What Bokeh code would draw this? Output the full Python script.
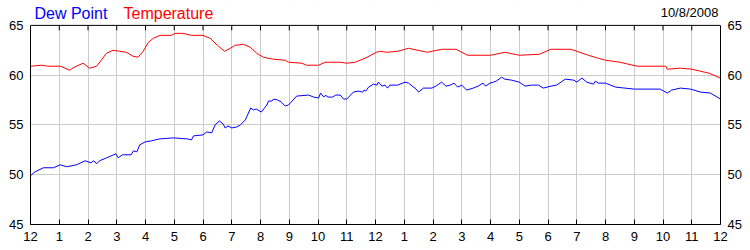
import math
from bokeh.plotting import figure
from bokeh.models import Range1d, LinearAxis, FixedTicker, Label, BoxAnnotation, Span
from bokeh.embed import file_html
from bokeh.resources import INLINE

# ---- data (hours after midnight, deg F) ----
temp_hours = [0.0, 0.4, 0.6, 1.05, 1.36, 1.52, 1.83, 2.06, 2.3, 2.46, 2.64, 2.87, 3.1, 3.33, 3.57,
              3.74, 3.92, 4.1, 4.27, 4.5, 4.9, 5.03, 5.3, 5.6, 6.0, 6.25, 6.5, 6.75, 6.95, 7.12,
              7.41, 7.64, 7.87, 8.1, 8.45, 8.86, 8.97, 9.44, 9.6, 10.02, 10.25, 10.77, 11.0, 11.29,
              11.64, 12.03, 12.15, 12.4, 12.77, 13.15, 13.8, 14.3, 14.8, 15.2, 16.0, 16.5, 17.0,
              17.7, 18.1, 18.8, 19.0, 19.4, 19.75, 20.0, 20.5, 21.1, 22.1, 22.15, 22.6, 23.0, 23.3,
              23.6, 24.0]
temp_values = [60.9, 61.0, 60.9, 60.9, 60.5, 60.8, 61.2, 60.7, 60.9, 61.5, 62.2, 62.5, 62.4, 62.3, 61.9,
               61.8, 62.4, 63.3, 63.7, 64.0, 64.0, 64.2, 64.2, 64.0, 64.0, 63.7, 63.0, 62.4, 62.7, 63.0,
               63.1, 62.8, 62.2, 61.8, 61.6, 61.5, 61.3, 61.2, 61.0, 61.0, 61.3, 61.3, 61.2, 61.3,
               61.7, 62.3, 62.4, 62.3, 62.4, 62.7, 62.3, 62.6, 62.6, 62.0, 62.0, 62.3, 62.0,
               62.1, 62.6, 62.6, 62.4, 62.0, 61.7, 61.5, 61.3, 60.9, 60.9, 60.6, 60.7, 60.6, 60.4,
               60.2, 59.7]

dew_hours = [0.0, 0.16, 0.45, 0.8, 1.03, 1.26, 1.6, 1.9, 2.1, 2.2, 2.3, 2.4, 2.65, 2.97, 3.05, 3.2,
             3.5, 3.58, 3.7, 3.8, 3.99, 4.2, 4.34, 4.5, 4.97, 5.45, 5.6, 5.67, 6.0, 6.13, 6.3, 6.42,
             6.57, 6.7, 6.77, 6.87, 7.0, 7.18, 7.3, 7.47, 7.66, 7.75, 7.85, 8.03, 8.22, 8.28, 8.4,
             8.45, 8.6, 8.72, 8.86, 8.97, 9.1, 9.26, 9.67, 9.85, 10.02, 10.09, 10.2, 10.27, 10.33,
             10.5, 10.62, 10.77, 10.89, 11.0, 11.23, 11.4, 11.55, 11.6, 11.66, 11.76, 11.93, 12.05,
             12.1, 12.23, 12.33, 12.42, 12.5, 12.77, 13.03, 13.15, 13.32, 13.38, 13.5, 13.67, 13.96,
             14.1, 14.3, 14.45, 14.6, 14.73, 14.86, 15.0, 15.17, 15.4, 15.57, 15.74, 15.83, 15.98,
             16.1, 16.2, 16.39, 16.5, 16.73, 17.0, 17.2, 17.43, 17.67, 17.84, 18.1, 18.3, 18.6, 18.9,
             19.0, 19.18, 19.35, 19.58, 19.65, 19.75, 20.0, 20.35, 21.0, 21.9, 22.15, 22.3, 22.6,
             22.96, 23.3, 23.65, 24.0]
dew_values = [49.9, 50.3, 50.7, 50.7, 51.0, 50.8, 51.0, 51.4, 51.2, 51.4, 51.1, 51.4, 51.7, 52.1, 51.7, 52.0,
              52.0, 52.4, 52.3, 53.0, 53.3, 53.4, 53.5, 53.6, 53.7, 53.6, 53.5, 53.9, 54.0, 54.3, 54.2, 55.0,
              55.4, 55.1, 54.7, 54.9, 54.7, 54.8, 55.0, 55.5, 56.7, 56.5, 56.6, 56.3, 57.0, 57.4, 57.4,
              57.6, 57.5, 57.3, 56.9, 57.0, 57.4, 57.9, 58.0, 57.8, 57.7, 58.2, 57.8, 58.0, 57.8,
              57.8, 58.0, 58.0, 57.6, 57.6, 58.3, 58.4, 58.3, 58.5, 58.4, 58.8, 59.1, 59.0,
              59.3, 58.9, 59.0, 58.7, 59.0, 59.0, 59.3, 59.2, 58.8, 58.7, 58.3, 58.7, 58.7,
              58.9, 59.3, 58.9, 59.0, 59.2, 58.8, 59.0, 58.5, 58.7, 58.9, 59.2, 58.9, 59.2,
              59.3, 59.4, 59.8, 59.6, 59.5, 59.3, 58.9, 59.0, 59.0, 58.7, 58.9, 59.0, 59.6, 59.5,
              59.3, 59.7, 59.3, 59.1, 59.4, 59.2, 59.2, 58.8, 58.6, 58.6, 58.2, 58.5, 58.7,
              58.6, 58.3, 58.2, 57.6]

x_ticks = list(range(0, 25))
x_tick_labels = ["12", "1", "2", "3", "4", "5", "6", "7", "8", "9", "10", "11",
                 "12", "1", "2", "3", "4", "5", "6", "7", "8", "9", "10", "11", "12"]
y_ticks = [45, 50, 55, 60, 65]
title_dew = "Dew Point"
title_temp = "Temperature"
date_text = "10/8/2008"

FONT = "Liberation Sans"
GRID = "#cccccc"
X0, X1 = 0, 24
Y0, Y1 = 45, 65
Y_TOP = 67.5  # headroom above the plot box that holds the title texts

p = figure(width=750, height=250, output_backend="svg", toolbar_location=None,
           x_range=Range1d(X0, X1), y_range=Range1d(Y0, Y_TOP),
           x_axis_location=None, y_axis_location=None,
           min_border_left=30, min_border_right=30, min_border_top=0, min_border_bottom=26)
p.background_fill_color = "white"
p.border_fill_color = "white"
p.outline_line_color = None

def style_axis(ax):
    ax.axis_line_color = "black"
    ax.major_tick_line_color = "black"
    ax.minor_tick_line_color = None
    ax.major_label_text_font = FONT
    ax.major_label_text_font_size = "13px"
    ax.major_label_text_color = "black"

bottom = LinearAxis(ticker=FixedTicker(ticks=x_ticks),
                    major_label_overrides={t: l for t, l in zip(x_ticks, x_tick_labels)})
style_axis(bottom)
bottom.major_tick_in = 5
bottom.major_tick_out = 0
bottom.major_label_standoff = 7
p.add_layout(bottom, "below")

left = LinearAxis(ticker=FixedTicker(ticks=y_ticks), bounds=(Y0, Y1))
style_axis(left)
left.major_tick_in = 0
left.major_tick_out = 0
left.major_label_standoff = 7
p.add_layout(left, "left")

right = LinearAxis(ticker=FixedTicker(ticks=y_ticks), bounds=(Y0, Y1))
style_axis(right)
right.major_tick_in = 0
right.major_tick_out = 0
right.major_label_standoff = 7
p.add_layout(right, "right")

p.xgrid.ticker = FixedTicker(ticks=x_ticks)
p.ygrid.ticker = FixedTicker(ticks=y_ticks)
p.xgrid.grid_line_color = GRID
p.ygrid.grid_line_color = GRID

p.line(dew_hours, dew_values, line_color="#0000ff", line_width=1)
p.line(temp_hours, temp_values, line_color="#ff0000", line_width=1)

# inward tick marks along the top edge of the box
p.ray(x=x_ticks, y=[Y1] * len(x_ticks), length=5, length_units="screen",
      angle=-math.pi / 2, line_color="black", line_width=1)

# white headroom above the box (hides grid lines there) and the top border
p.add_layout(BoxAnnotation(left=X0, right=X1, bottom=Y1, top=Y_TOP,
                           fill_color="white", fill_alpha=1.0, line_color=None))
p.add_layout(Span(location=Y1, dimension="width", line_color="black", line_width=1))

p.add_layout(Label(x=0.139, y=66.2, text=title_dew, text_color="#0000ff", text_font=FONT,
                   text_font_size="16px", text_baseline="alphabetic", text_align="left"))
p.add_layout(Label(x=3.235, y=66.2, text=title_temp, text_color="#ff0000", text_font=FONT,
                   text_font_size="16px", text_baseline="alphabetic", text_align="left"))
p.add_layout(Label(x=23.93, y=66.33, text=date_text, text_color="black", text_font=FONT,
                   text_font_size="13px", text_baseline="alphabetic", text_align="right"))

open("out.html", "w").write(file_html(p, INLINE))
